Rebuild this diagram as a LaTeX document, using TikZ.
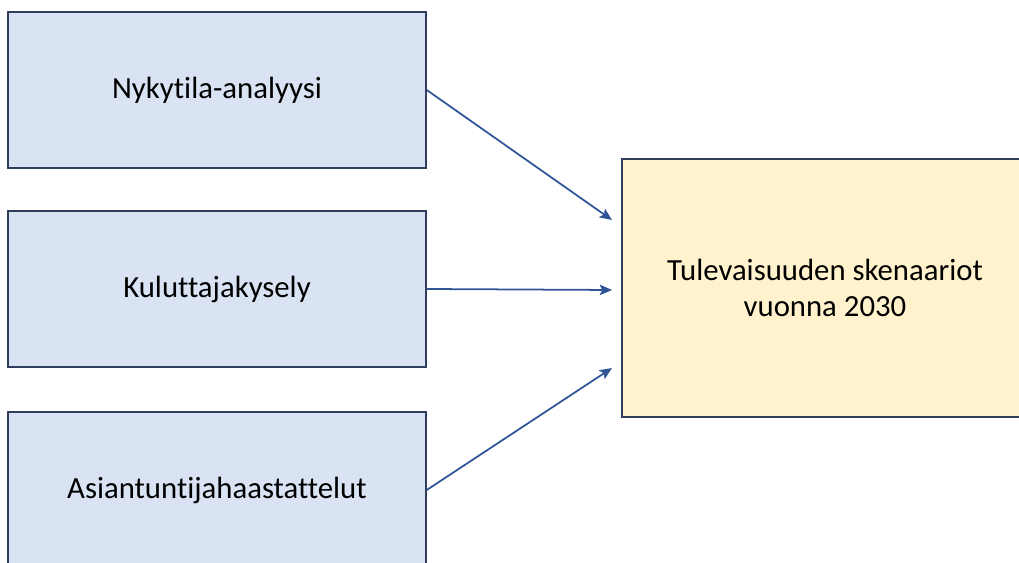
\documentclass[tikz,border=0pt]{standalone}
\usepackage{fontspec}
\setmainfont[Ligatures=NoCommon]{Carlito}
\usetikzlibrary{arrows.meta,positioning}

\definecolor{srcfill}{HTML}{DAE3F3}
\definecolor{srcline}{HTML}{2F3E5C}
\definecolor{goalfill}{HTML}{FFF2CC}
\definecolor{arrowblue}{HTML}{2F5597}

\tikzset{
  srcbox/.style={draw=srcline, line width=0.9pt, fill=srcfill, minimum width=8.36cm, minimum height=3.12cm, inner sep=0pt, font=\fontsize{17.5}{20.5}\selectfont},
  goalbox/.style={draw=srcline, line width=0.9pt, fill=goalfill, minimum width=8.12cm, minimum height=5.16cm, inner sep=0pt, align=center, font=\fontsize{17.5}{20.5}\selectfont},
  flow/.style={draw=arrowblue, line width=1pt, -{Stealth[length=7pt, width=6pt, inset=1.5pt]}},
}

\begin{document}
\begin{tikzpicture}[x=0.02cm, y=-0.02cm]
  \useasboundingbox (0,0) rectangle (1019,563);
  \clip (0,0) rectangle (1019,563);
  % input boxes
  \node[srcbox] (nyky) at (217,90) {Nykytila-analyysi};
  \node[srcbox] (kulu) at (217,289) {Kuluttajakysely};
  \node[srcbox] (asia) at (217,490) {Asiantuntijahaastattelut};
  % scenario box
  \node[goalbox] (skena) at (825,288) {Tulevaisuuden skenaariot\\vuonna 2030};
  % arrow targets
  \coordinate (t1) at (612,220);
  \coordinate (t2) at (612,290);
  \coordinate (t3) at (612,368);
  \draw[flow] (nyky.east) -- (t1);
  \draw[flow] (kulu.east) -- (t2);
  \draw[flow] (asia.east) -- (t3);
\end{tikzpicture}
\end{document}
